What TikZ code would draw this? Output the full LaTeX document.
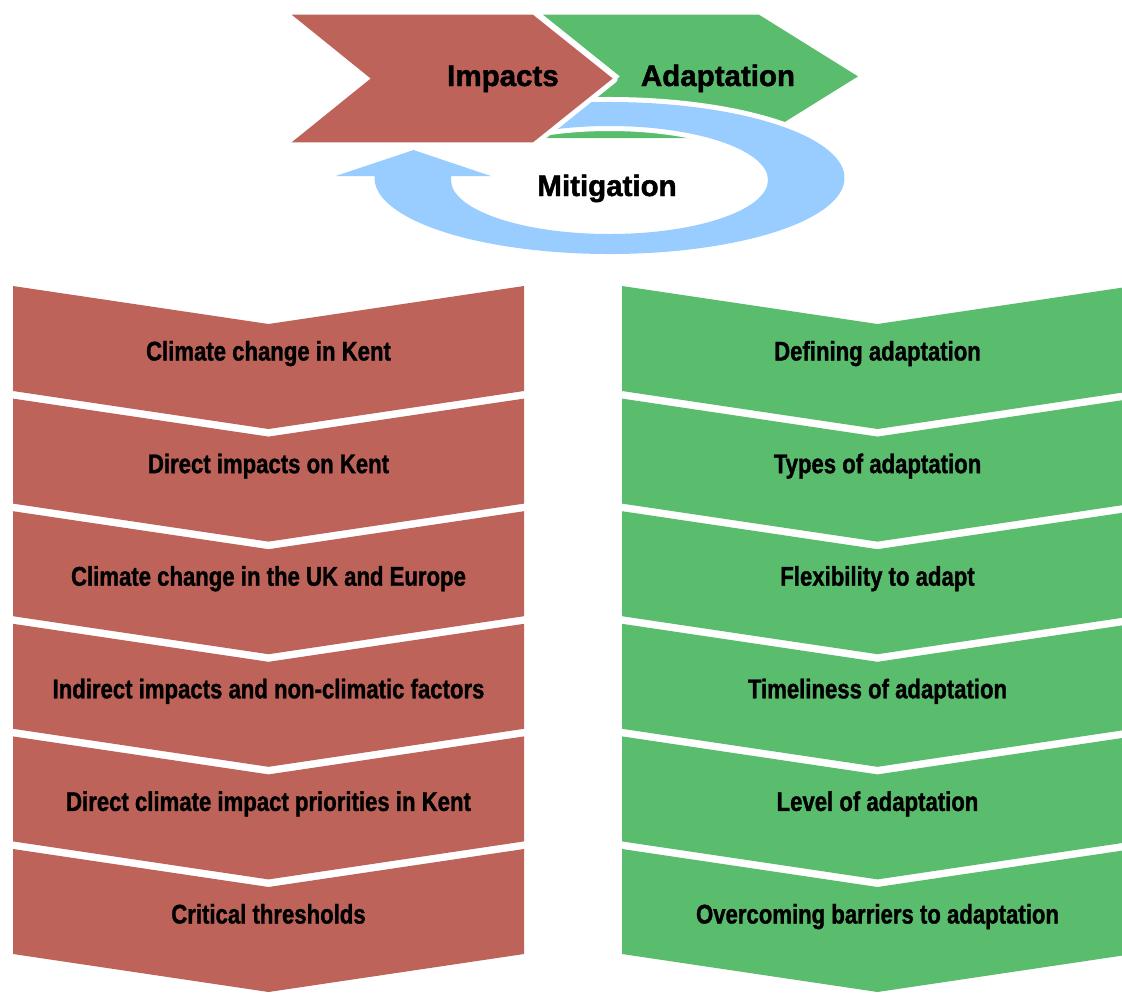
\documentclass[tikz,border=0pt]{standalone}
\usepackage{fontspec}
\setmainfont{Liberation Sans}
\newfontfamily\titlefont[FakeBold=1.6]{Liberation Sans}
\newfontfamily\condfont[FakeStretch=0.82, FakeBold=1.2]{Liberation Sans}
\usetikzlibrary{positioning}
\definecolor{impactred}{RGB}{189,99,89}
\definecolor{adaptgreen}{RGB}{90,189,110}
\definecolor{mitigblue}{RGB}{153,204,255}
\tikzset{
	title/.style={font=\titlefont\fontsize{29.5}{34}\selectfont\bfseries, anchor=base, inner sep=0pt},
	item/.style={font=\condfont\fontsize{27}{32}\selectfont\bfseries, anchor=base, inner sep=0pt},
	outlined/.style={preaction={draw=white, line width=10pt, line join=round}},
}

\begin{document}
\begin{tikzpicture}[x=1pt, y=-1pt]
		\useasboundingbox (0,0) rectangle (1122,994);

		\fill[adaptgreen] (543,14.7) -- (759,14.7) -- (858,76.4) -- (759,138) -- (543,138) -- (620,76.4) -- cycle;

		\fill[mitigblue, outlined] (609.5,178) ++(-120:235 and 76) arc[start angle=-120, end angle=180, x radius=235, y radius=76]
			-- (374.5,176) -- (335.6,176) -- (413.5,150) -- (490.8,176) -- (451,176) -- (451,180)
			arc[start angle=180, end angle=-120, x radius=158.5, y radius=54] -- cycle;

		\fill[impactred, outlined] (291.7,14.7) -- (533,14.7) -- (612.7,78.5) -- (533,142.3) -- (291.7,142.3) -- (370.7,78.5) -- cycle;

		\node[title] (impacts) at (503,86) {Impacts};
		\node[title] (adaptation) at (718,86) {Adaptation};
		\node[title] (mitigation) at (607,196) {Mitigation};

		\foreach \txt [count=\i from 1] in {Climate change in Kent, Direct impacts on Kent, Climate change in the UK and Europe, Indirect impacts and non-climatic factors, Direct climate impact priorities in Kent, Critical thresholds}{
			\pgfmathsetmacro\rowtop{286+112.6*(\i-1)}
			\fill[impactred] (13,\rowtop) -- (268.5,{\rowtop+38}) -- (524,\rowtop) -- (524,{\rowtop+105}) -- (268.5,{\rowtop+143}) -- (13,{\rowtop+105}) -- cycle;
			\node[item] (imp\i) at (268.5,{\rowtop+74.5}) {\txt};
		}

		\foreach \txt [count=\i from 1] in {Defining adaptation, Types of adaptation, Flexibility to adapt, Timeliness of adaptation, Level of adaptation, Overcoming barriers to adaptation}{
			\pgfmathsetmacro\rowtop{286+112.6*(\i-1)}
			\fill[adaptgreen] (622,\rowtop) -- (877.5,{\rowtop+38}) -- (1133,\rowtop) -- (1133,{\rowtop+105}) -- (877.5,{\rowtop+143}) -- (622,{\rowtop+105}) -- cycle;
			\node[item] (ada\i) at (877.5,{\rowtop+74.5}) {\txt};
		}
	\end{tikzpicture}
\end{document}
